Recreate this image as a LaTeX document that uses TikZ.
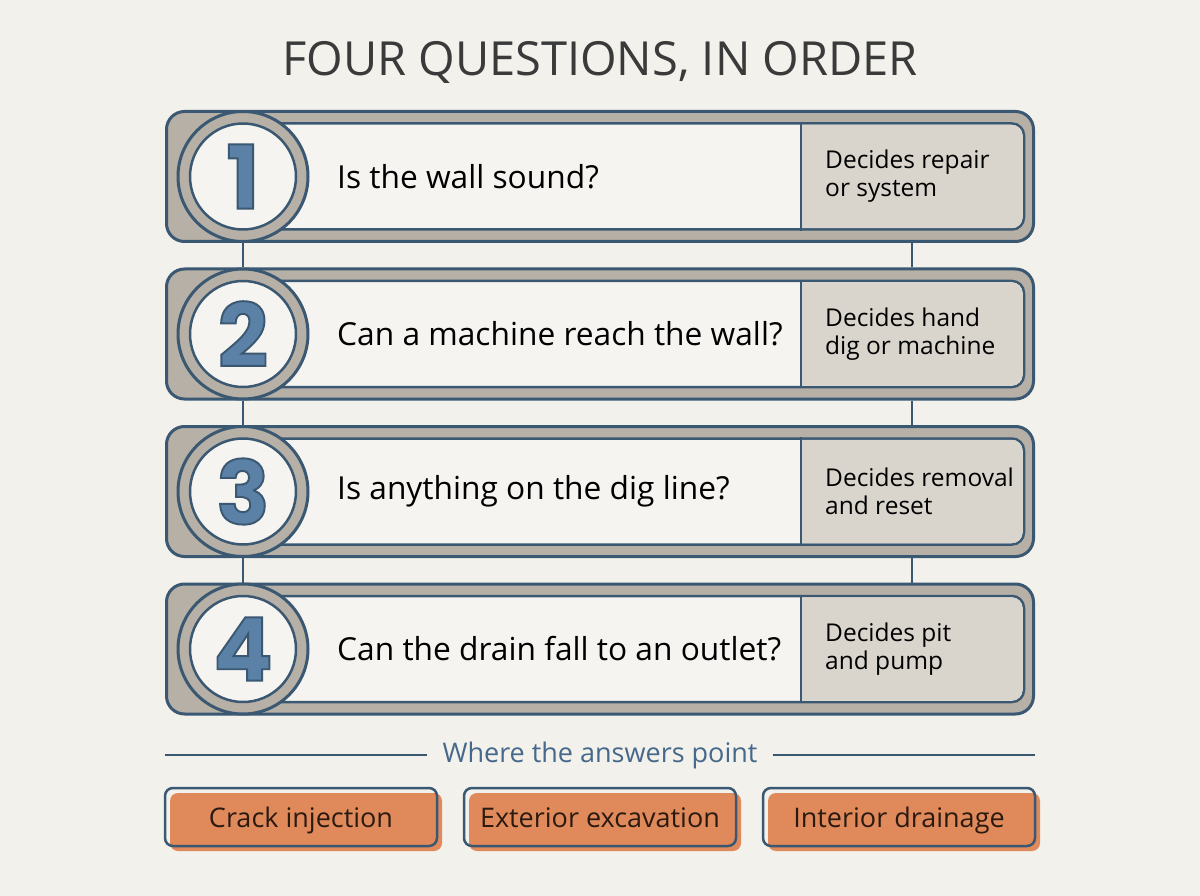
\documentclass[tikz,border=0pt]{standalone}
\usepackage{fontspec}
\setmainfont{Open Sans}
\newfontfamily\numfont{Poppins}[BoldFeatures={FakeBold=2.2}]
\usetikzlibrary{positioning}
\definecolor{bgpaper}{HTML}{F2F1EC}
\definecolor{inkblue}{HTML}{3B5872}
\definecolor{taupe}{HTML}{B6B0A6}
\definecolor{cardwhite}{HTML}{F5F4F0}
\definecolor{sidegray}{HTML}{D9D5CD}
\definecolor{numblue}{HTML}{5B81A6}
\definecolor{titlegray}{HTML}{3A3A3A}
\definecolor{hdrblue}{HTML}{46688A}
\definecolor{answerorange}{HTML}{E08A5B}
\definecolor{answerink}{HTML}{2B1A10}
\newcommand\inkstroke{\special{pdf:literal direct 0.231 0.345 0.447 RG}}

\tikzset{
  outercard/.style={draw=inkblue, line width=3, fill=taupe, rounded corners=18, minimum width=867, minimum height=130},
  innercard/.style={draw=inkblue, line width=2.5, fill=cardwhite, rounded corners=12, minimum width=781, minimum height=106},
  ring/.style={circle, draw=inkblue, line width=3, fill=taupe, minimum size=130, inner sep=0},
  dial/.style={circle, draw=inkblue, line width=2.5, fill=cardwhite, minimum size=106, inner sep=0,
    text=numblue, font=\numfont\bfseries\fontsize{88}{88}\selectfont},
  question/.style={inner sep=0, font=\fontsize{31.7}{38}\selectfont},
  decide/.style={inner sep=0, align=left, font=\fontsize{24.5}{28}\selectfont},
  link/.style={draw=inkblue, line width=2.5},
  answer/.style={draw=inkblue, line width=2.5, rounded corners=8, minimum width=272, minimum height=58,
    text height=26, text depth=6, text=answerink, font=\fontsize{27}{30}\selectfont,
    preaction={fill=answerorange, transform canvas={shift={(5pt,-5pt)}}}}
}

\begin{document}
\begin{tikzpicture}[x=1pt, y=-1pt]
\fill[bgpaper] (0,0) rectangle (1200,896);
\useasboundingbox (0,0) rectangle (1200,896);

\node[text=titlegray, font=\fontsize{47}{50}\selectfont] (title) at (600,62) {FOUR QUESTIONS, IN ORDER};

\foreach \n/\y/\q/\d in {1/176.5/Is the wall sound?/{Decides repair\\or system},
    2/334/Can a machine reach the wall?/{Decides hand\\dig or machine},
    3/491.5/Is anything on the dig line?/{Decides removal\\and reset},
    4/649/Can the drain fall to an outlet?/{Decides pit\\and pump}}{
  \node[outercard] (o\n) at (600,\y) {};
  \node[innercard] (i\n) at (633.5,\y) {};
  \fill[sidegray] (802,\y-51.7) [rounded corners=10.7] -- (1022.5,\y-51.7) -- (1022.5,\y+51.7) [sharp corners] -- (802,\y+51.7) -- cycle;
  \coordinate (s\n) at (801,\y);
  \draw[link] (s\n |- i\n.north) -- (s\n |- i\n.south);
  \node[ring] (c\n) at (243,\y) {};
  \node[dial] (n\n) at (c\n) {\inkstroke\n};
  \node[question, anchor=west] (q\n) at (337,\y) {\q};
  \node[decide, anchor=west] (d\n) at (825,\y) {\d};
  \coordinate (m\n) at (912,\y);
}

\foreach \a/\b in {1/2,2/3,3/4}{
  \draw[link] (c\a) -- (c\b);
  \draw[link] (m\a |- o\a.south) -- (m\b |- o\b.north);
}

\node[text=hdrblue, inner sep=15, font=\fontsize{27}{30}\selectfont] (hdr) at (600,755) {Where the answers point};
\coordinate (hl) at (165,755);
\coordinate (hr) at (1035,755);
\draw[link] (hl) -- (hdr);
\draw[link] (hdr) -- (hr);

\node[answer] (b1) at (301,817) {Crack injection};
\node[answer] (b2) at (600,817) {Exterior excavation};
\node[answer] (b3) at (899,817) {Interior drainage};
\end{tikzpicture}
\end{document}
